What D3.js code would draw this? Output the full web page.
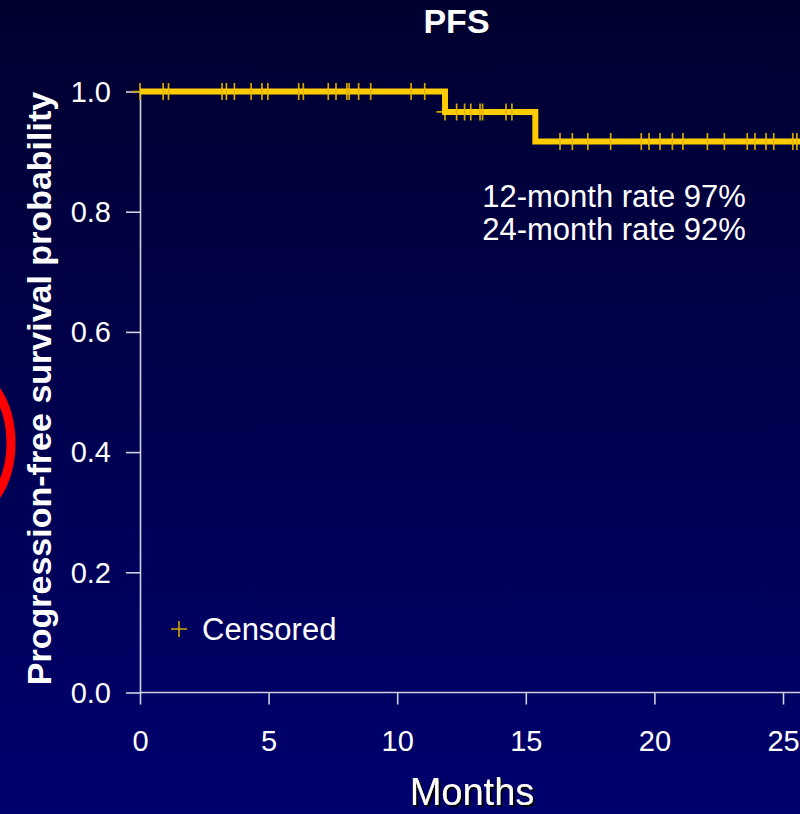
<!DOCTYPE html>
<html>
<head>
<meta charset="utf-8">
<script src="https://cdn.jsdelivr.net/npm/d3@7"></script>
<style>
  html, body { margin: 0; padding: 0; background: #00004a; }
  svg { display: block; }
  text { font-family: "Liberation Sans", Arial, sans-serif; fill: #ffffff; }
</style>
</head>
<body>
<svg id="chart" width="800" height="814"></svg>
<script>
// Kaplan–Meier progression-free survival
const stepTimes = [0, 11.86, 15.37];          // months at which the curve drops
const stepSurvival = [1.0, 0.966, 0.917];      // survival level after each step
const followUpEnd = 26.2;                      // last follow-up (months)

const censorTimes = [
  0.0, 0.90, 1.11, 3.19, 3.36, 3.67, 4.32, 4.74, 4.97, 6.17, 6.35, 7.32, 7.62,
  8.04, 8.13, 8.50, 8.97, 10.54, 11.07,
  11.86, 12.31, 12.62, 12.86, 13.22, 13.32, 14.23, 14.46,
  16.33, 16.81, 17.41, 18.30, 19.49, 19.79, 20.22, 20.70, 21.11, 22.06, 22.72,
  23.61, 23.91, 24.34, 24.64, 25.38, 25.54
];

const xTickValues = [0, 5, 10, 15, 20, 25];
const yTickValues = [0.0, 0.2, 0.4, 0.6, 0.8, 1.0];
const rateMonths = [12, 24];

const svg = d3.select("#chart");
const W = 800, H = 814;

// background
const defs = svg.append("defs");
const grad = defs.append("linearGradient")
  .attr("id", "bg").attr("x1", 0).attr("y1", 0).attr("x2", 0).attr("y2", 1);
grad.append("stop").attr("offset", "0%").attr("stop-color", "#00002e");
grad.append("stop").attr("offset", "100%").attr("stop-color", "#00006e");
const shadow = defs.append("filter").attr("id", "shadow")
  .attr("x", "-10%").attr("y", "-20%").attr("width", "130%").attr("height", "150%");
shadow.append("feDropShadow").attr("dx", 2).attr("dy", 2)
  .attr("stdDeviation", 0.6).attr("flood-color", "#000000").attr("flood-opacity", 1);

svg.append("rect").attr("width", W).attr("height", H).attr("fill", "url(#bg)");

// scales
const x = d3.scaleLinear().domain([0, 25]).range([140, 783]);
const y = d3.scaleLinear().domain([0, 1]).range([692.5, 91.5]);

const survivalAt = t => {
  let s = stepSurvival[0];
  stepTimes.forEach((st, i) => { if (t >= st) s = stepSurvival[i]; });
  return s;
};

const axisColor = "#cfcfe0";

// y axis
const yAxis = svg.append("g").attr("transform", `translate(${x(0)},0)`)
  .call(d3.axisLeft(y).tickValues(yTickValues).tickFormat(d3.format(".1f"))
    .tickSize(14).tickSizeOuter(0).tickPadding(15));
yAxis.select(".domain").attr("stroke", axisColor).attr("stroke-width", 1.6);
yAxis.selectAll(".tick line").attr("stroke", axisColor).attr("stroke-width", 1.6);
yAxis.selectAll(".tick text")
  .attr("fill", "#ffffff").attr("font-size", 29)
  .attr("font-family", "Liberation Sans, Arial, sans-serif")
  .attr("dy", "0.34em");

// x axis, its baseline running to the right edge
const xAxis = svg.append("g").attr("transform", `translate(0,${y(0)})`)
  .call(d3.axisBottom(x).tickValues(xTickValues).tickSize(12).tickSizeOuter(0).tickPadding(26));
xAxis.select(".domain").attr("d", `M${x(0)},0H${W}`)
  .attr("stroke", axisColor).attr("stroke-width", 1.6);
xAxis.selectAll(".tick line").attr("stroke", axisColor).attr("stroke-width", 1.6);
xAxis.selectAll(".tick text")
  .attr("fill", "#ffffff").attr("font-size", 29)
  .attr("font-family", "Liberation Sans, Arial, sans-serif");

// censor marks (beneath the curve so only the arms show)
const censorColor = "#d2a600";
const arm = 8.5;
svg.append("g").selectAll("path.censor")
  .data(censorTimes)
  .join("path")
  .attr("class", "censor")
  .attr("d", d => `M${x(d)},${y(survivalAt(d)) - arm}V${y(survivalAt(d)) + arm}M${x(d) - arm},${y(survivalAt(d))}H${x(d) + arm}`)
  .attr("stroke", censorColor).attr("stroke-width", 1.7).attr("fill", "none");

// survival curve
const curvePts = stepTimes.map((t, i) => [t, stepSurvival[i]])
  .concat([[followUpEnd, stepSurvival[stepSurvival.length - 1]]]);
svg.append("path")
  .datum(curvePts)
  .attr("d", d3.line().x(d => x(d[0])).y(d => y(d[1])).curve(d3.curveStepAfter))
  .attr("fill", "none").attr("stroke", "#ffcc00").attr("stroke-width", 6)
  .attr("stroke-linejoin", "miter").attr("stroke-linecap", "butt");

// vertical arms of the censor marks, visible across the curve
svg.append("g").selectAll("line")
  .data(censorTimes.filter(t => !stepTimes.includes(t)))
  .join("line")
  .attr("x1", d => x(d)).attr("x2", d => x(d))
  .attr("y1", d => y(survivalAt(d)) - 3).attr("y2", d => y(survivalAt(d)) + 3)
  .attr("stroke", "#e0b400").attr("stroke-width", 1.4);

// title
svg.append("text").attr("x", 456.5).attr("y", 33)
  .attr("text-anchor", "middle").attr("font-size", 34).attr("font-weight", "bold")
  .text("PFS");

// axis titles
svg.append("text")
  .attr("transform", "translate(51,388.5) rotate(-90)")
  .attr("text-anchor", "middle").attr("font-size", 34).attr("font-weight", "bold")
  .text("Progression-free survival probability");

svg.append("text").attr("x", 472).attr("y", 805)
  .attr("text-anchor", "middle").attr("font-size", 38)
  .attr("filter", "url(#shadow)")
  .text("Months");

// landmark rates
const pct = d3.format(".0%");
svg.append("g").selectAll("text")
  .data(rateMonths)
  .join("text")
  .attr("x", 614).attr("y", (d, i) => 207 + i * 33)
  .attr("text-anchor", "middle").attr("font-size", 31)
  .text(d => `${d}-month rate ${pct(survivalAt(d))}`);

// legend
svg.append("path")
  .attr("d", `M171,629H187M179,621V637`)
  .attr("stroke", censorColor).attr("stroke-width", 1.6);
svg.append("text").attr("x", 202).attr("y", 640)
  .attr("font-size", 31).text("Censored");

// red highlight ring at the left edge
svg.append("ellipse")
  .attr("cx", -45).attr("cy", 443).attr("rx", 56).attr("ry", 78)
  .attr("fill", "none").attr("stroke", "#ff0000").attr("stroke-width", 9);
</script>
</body>
</html>
